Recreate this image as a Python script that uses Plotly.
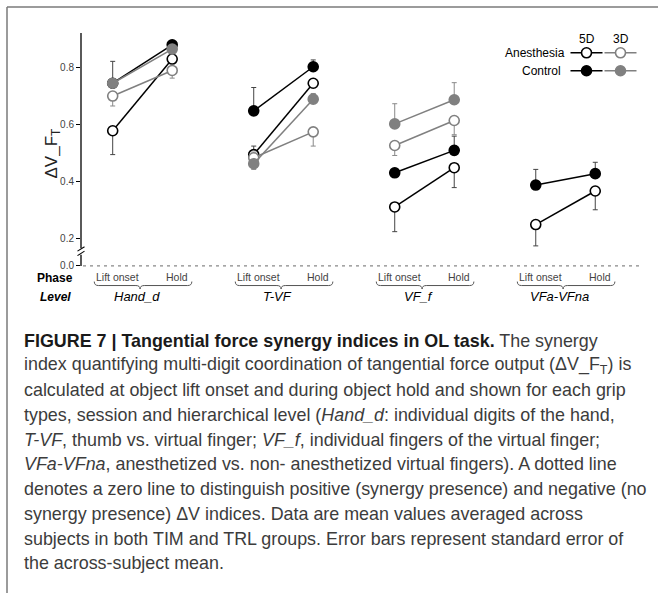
import plotly.graph_objects as go

# ---------------- data ----------------
groups = ["Hand_d", "T-VF", "VF_f", "VFa-VFna"]
phases = ["Lift onset", "Hold"]
y_ticks = [0.2, 0.4, 0.6, 0.8]
y_ticktext = ["0.2", "0.4", "0.6", "0.8"]

# values ordered: [Hand_d lift, Hand_d hold, T-VF lift, T-VF hold, VF_f lift, VF_f hold, VFa lift, VFa hold]
anes_5d = [0.578, 0.830, 0.494, 0.745, 0.310, 0.448, 0.248, 0.366]
ctrl_5d = [0.745, 0.880, 0.648, 0.803, 0.430, 0.509, 0.387, 0.427]
anes_3d = [0.700, 0.790, 0.483, 0.574, 0.526, 0.614, None, None]
ctrl_3d = [0.745, 0.865, 0.462, 0.689, 0.602, 0.687, None, None]

# standard errors (upper, lower) as drawn
anes_5d_up = [0.0, 0.0, 0.03, 0.0, 0.0, 0.0, 0.0, 0.0]
anes_5d_lo = [0.084, 0.0, 0.0, 0.0, 0.087, 0.070, 0.075, 0.066]
ctrl_5d_up = [0.077, 0.01, 0.082, 0.024, 0.0, 0.05, 0.055, 0.04]
ctrl_5d_lo = [0.0, 0.0, 0.0, 0.0, 0.0, 0.0, 0.0, 0.0]
anes_3d_up = [0.0, 0.0, 0.02, 0.0, 0.0, 0.0, 0.0, 0.0]
anes_3d_lo = [0.035, 0.027, 0.0, 0.05, 0.035, 0.05, 0.0, 0.0]
ctrl_3d_up = [0.0, 0.0, 0.0, 0.02, 0.071, 0.06, 0.0, 0.0]
ctrl_3d_lo = [0.0, 0.0, 0.02, 0.0, 0.0, 0.0, 0.0, 0.0]

caption_lines = [
    "<b><span style='color:#1a1a1a'>FIGURE 7 | Tangential force synergy indices in OL task.</span></b> The synergy",
    "index quantifying multi-digit coordination of tangential force output (ΔV_F<sub>T</sub>) is",
    "calculated at object lift onset and during object hold and shown for each grip",
    "types, session and hierarchical level (<i>Hand_d</i>: individual digits of the hand,",
    "<i>T-VF</i>, thumb vs. virtual finger; <i>VF_f</i>, individual fingers of the virtual finger;",
    "<i>VFa-VFna</i>, anesthetized vs. non- anesthetized virtual fingers). A dotted line",
    "denotes a zero line to distinguish positive (synergy presence) and negative (no",
    "synergy presence) ΔV indices. Data are mean values averaged across",
    "subjects in both TIM and TRL groups. Error bars represent standard error of",
    "the across-subject mean.",
]

# ---------------- layout helpers ----------------
W, H = 658, 595
GROUP_STEP = 2.37
ZERO_POS = 0.103          # where the broken axis shows "0.0"
xpos = [g * GROUP_STEP + p for g in range(len(groups)) for p in range(len(phases))]

BLACK = "#000000"
GREY = "#808080"
FONT = "Liberation Sans, Arial, sans-serif"


def px(x):
    return x / W


def py(y):
    return 1 - y / H


fig = go.Figure()

series = [
    (anes_5d, anes_5d_up, anes_5d_lo, BLACK, "white", "#444444"),
    (ctrl_5d, ctrl_5d_up, ctrl_5d_lo, BLACK, BLACK, "#444444"),
    (anes_3d, anes_3d_up, anes_3d_lo, GREY, "white", "#8a8a8a"),
    (ctrl_3d, ctrl_3d_up, ctrl_3d_lo, GREY, GREY, "#8a8a8a"),
]
for vals, up, lo, col, fill, ecol in series:
    for g in range(len(groups)):
        idx = [2 * g, 2 * g + 1]
        if vals[idx[0]] is None:
            continue
        fig.add_trace(go.Scatter(
            x=[xpos[i] for i in idx], y=[vals[i] for i in idx],
            mode="lines+markers",
            line=dict(color=col, width=1.5),
            marker=dict(size=10, color=fill, line=dict(color=col, width=1.6)),
            error_y=dict(type="data", symmetric=False,
                         array=[up[i] for i in idx], arrayminus=[lo[i] for i in idx],
                         color=ecol, thickness=1, width=2.5),
            showlegend=False, hoverinfo="skip", xaxis="x", yaxis="y",
        ))

# legend symbols on a pixel overlay axis
leg_rows = [("Anesthesia", 53, "white"), ("Control", 71, None)]
for name, yy, fill in leg_rows:
    for xc, col in [(586.5, BLACK), (620.5, GREY)]:
        fig.add_trace(go.Scatter(
            x=[xc - 16, xc, xc + 16], y=[yy, yy, yy], mode="lines",
            line=dict(color=col, width=1.5), showlegend=False, hoverinfo="skip",
            xaxis="x2", yaxis="y2"))
        fig.add_trace(go.Scatter(
            x=[xc], y=[yy], mode="markers",
            marker=dict(size=10, color=fill if fill else col, line=dict(color=col, width=1.6)),
            showlegend=False, hoverinfo="skip", xaxis="x2", yaxis="y2"))

shapes = []
LINE_C = "#7a7a7a"
# figure border (top and left)
shapes.append(dict(type="line", xref="paper", yref="paper", x0=px(7), x1=px(658), y0=py(7), y1=py(7),
                   line=dict(color=LINE_C, width=1.5)))
shapes.append(dict(type="line", xref="paper", yref="paper", x0=px(7), x1=px(7), y0=py(7), y1=py(595),
                   line=dict(color=LINE_C, width=1.5)))
# y axis line with break
shapes.append(dict(type="line", xref="paper", yref="paper", x0=px(81), x1=px(81), y0=py(33), y1=py(249),
                   line=dict(color=BLACK, width=1.3)))
shapes.append(dict(type="line", xref="paper", yref="paper", x0=px(81), x1=px(81), y0=py(255.5), y1=py(267),
                   line=dict(color=BLACK, width=1.3)))
for dy in (0, 4.5):
    shapes.append(dict(type="line", xref="paper", yref="paper", x0=px(77.5), x1=px(84.5),
                       y0=py(252 + dy), y1=py(247.5 + dy), line=dict(color=BLACK, width=1.1)))
# dotted zero line
shapes.append(dict(type="line", xref="paper", yref="y", x0=px(83), x1=px(640), y0=ZERO_POS, y1=ZERO_POS,
                   line=dict(color="#888888", width=1.2, dash="3px,4px")))
# braces under phase labels
ya, yb, yc = py(282.5), py(286.5), py(290)
r = 0.07
for g in range(len(groups)):
    x0 = xpos[2 * g] - 0.31
    x1 = xpos[2 * g + 1] + 0.33
    xc = (x0 + x1) / 2 - 0.05
    path = (f"M {x0},{ya} Q {x0},{yb} {x0 + r},{yb} L {xc - r},{yb} Q {xc},{yb} {xc},{yc} "
            f"Q {xc},{yb} {xc + r},{yb} L {x1 - r},{yb} Q {x1},{yb} {x1},{ya}")
    shapes.append(dict(type="path", xref="x", yref="paper", path=path,
                       line=dict(color="#555555", width=1)))

ann = []


def text(x, y, t, size, color=BLACK, xanchor="center", xref="paper", angle=0):
    ann.append(dict(x=x, y=y, xref=xref, yref="paper", text=t, showarrow=False,
                    xanchor=xanchor, yanchor="middle", textangle=angle,
                    font=dict(size=size, color=color, family=FONT)))


# legend texts
text(px(586.5), py(39), "5D", 12)
text(px(620.5), py(39), "3D", 12)
text(px(567), py(53), "Anesthesia", 12, xanchor="right")
text(px(563), py(71), "Control", 12, xanchor="right")
# y title
text(px(53), py(154), "ΔV_F<sub>T</sub>", 17, color="#222222", angle=-90)
# Phase / Level row titles
text(px(55), py(278.5), "<b>Phase</b>", 12)
text(px(55), py(297.5), "<b><i>Level</i></b>", 12)
for g, gname in enumerate(groups):
    for p, pname in enumerate(phases):
        text(xpos[2 * g + p] + 0.08, py(278), pname, 10.5, color="#444444", xref="x")
    text(xpos[2 * g] + 0.4, py(297.5), f"<i>{gname}</i>", 13, xref="x")
# caption
for i, line in enumerate(caption_lines):
    text(px(22), py(342 + i * 24.8), line, 17.9, color="#3c3c3c", xanchor="left")

fig.update_layout(
    width=W, height=H, margin=dict(l=0, r=0, t=0, b=0),
    paper_bgcolor="white", plot_bgcolor="rgba(0,0,0,0)",
    xaxis=dict(domain=[px(81), px(640)], range=[(81 - 112.7) / 59.5, (640 - 112.7) / 59.5],
               visible=False, fixedrange=True),
    yaxis=dict(domain=[py(270), py(30)], range=[0.0914, 0.9326],
               tickvals=[ZERO_POS] + y_ticks, ticktext=["0.0"] + y_ticktext,
               ticks="outside", ticklen=4, tickwidth=1, tickcolor=BLACK,
               showline=False, showgrid=False, zeroline=False,
               tickfont=dict(size=10, color="#444444", family=FONT), fixedrange=True),
    xaxis2=dict(domain=[0, 1], range=[0, W], visible=False, anchor="y2", fixedrange=True),
    yaxis2=dict(domain=[0, 1], range=[H, 0], visible=False, anchor="x2", fixedrange=True),
    shapes=shapes, annotations=ann,
)

fig.write_html("out.html")
